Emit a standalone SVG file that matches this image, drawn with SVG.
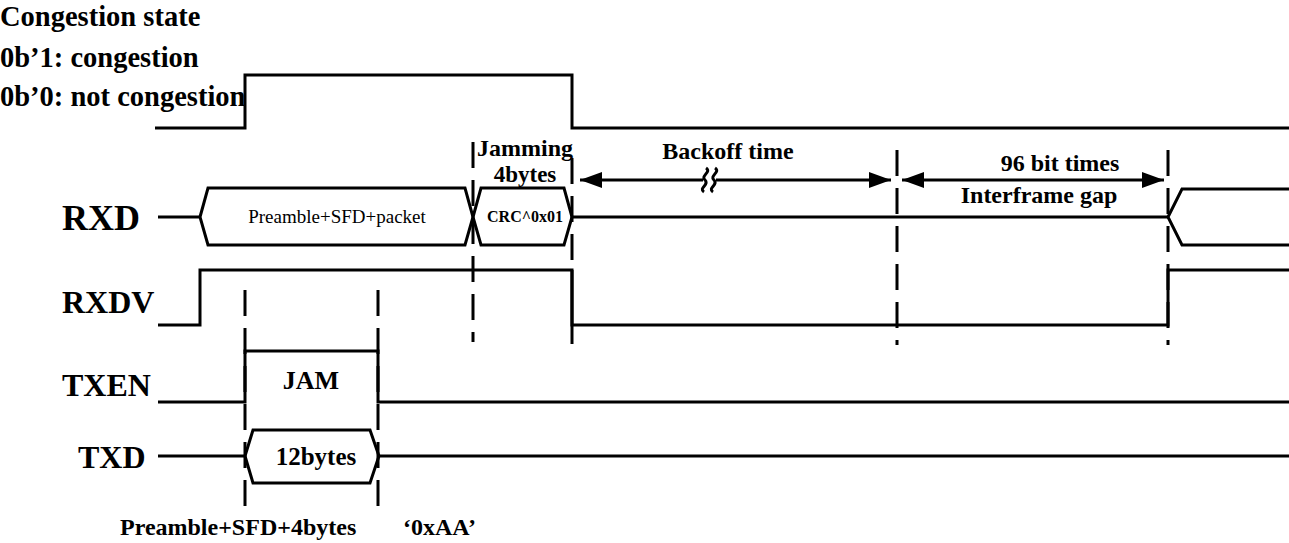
<svg xmlns="http://www.w3.org/2000/svg" width="1289" height="543" viewBox="0 0 1289 543">
<defs>
<style>
.w{fill:none;stroke:#000;stroke-width:3;stroke-linejoin:miter}
.d{fill:none;stroke:#000;stroke-width:3;stroke-dasharray:26 12}
.t{font-family:"Liberation Serif","Times New Roman",serif;font-weight:bold;fill:#000}
.r{font-family:"Liberation Serif","Times New Roman",serif;fill:#000}
.sig{font-size:32px}
.m{text-anchor:middle}
</style>
<marker id="ah" viewBox="0 0 22 16" refX="22" refY="8" markerWidth="22" markerHeight="16" markerUnits="userSpaceOnUse" orient="auto-start-reverse">
<path d="M0,0 L22,8 L0,16 z" fill="#000"/>
</marker>
</defs>
<rect width="1289" height="543" fill="#fff"/>

<g id="legend">
<text class="t" x="0" y="26" font-size="28.5">Congestion state</text>
<text class="t" x="0" y="67" font-size="28.5">0b’1: congestion</text>
<text class="t" x="0" y="106" font-size="28.5">0b’0: not congestion</text>
</g>

<g id="labels">
<text class="t" x="62" y="230" font-size="36">RXD</text>
<text class="t sig" x="62" y="313">RXDV</text>
<text class="t sig" x="62" y="396">TXEN</text>
<text class="t sig" x="78" y="468">TXD</text>
</g>

<g id="congestion">
<polyline class="w" points="155,128 245,128 245,75 572,75 572,128 1289,128"/>
</g>

<g id="rxd">
<line class="w" x1="158" y1="217" x2="200" y2="217"/>
<polygon class="w" points="200,217 208,188 465,188 473,217 465,245 208,245"/>
<text class="r m" x="337" y="223" font-size="19">Preamble+SFD+packet</text>
<polygon class="w" points="473,217 481,188 564,188 572,217 564,245 481,245"/>
<text class="t m" x="525" y="222" font-size="16">CRC^0x01</text>
<line class="w" x1="572" y1="217" x2="1168" y2="217"/>
<polyline class="w" points="1289,189 1182,189 1168,217 1182,245 1289,245"/>
</g>

<g id="rxdv">
<polyline class="w" points="158,325 200,325 200,270 572,270 572,325 1168,325 1168,270 1289,270"/>
</g>

<g id="txen">
<polyline class="w" points="158,402 245,402 245,351 378,351 378,402 1289,402"/>
<text class="t m" x="311" y="389" font-size="26">JAM</text>
</g>

<g id="txd">
<line class="w" x1="158" y1="456" x2="245" y2="456"/>
<polygon class="w" points="245,456 253,430 370,430 379,456 370,483 253,483"/>
<text class="t m" x="316" y="465" font-size="25">12bytes</text>
<line class="w" x1="379" y1="456" x2="1289" y2="456"/>
</g>

<g id="connectors">
<line class="d" x1="245" y1="290" x2="245" y2="512"/>
<line class="d" x1="378" y1="290" x2="378" y2="512"/>
<line class="d" x1="473" y1="142" x2="473" y2="342"/>
<line class="d" x1="572" y1="158" x2="572" y2="262"/>
<line class="w" x1="572" y1="270" x2="572" y2="344"/>
<line class="d" x1="897" y1="150" x2="897" y2="345"/>
<line class="d" x1="1168" y1="150" x2="1168" y2="345"/>
<line class="w" x1="580" y1="180" x2="703" y2="180" marker-start="url(#ah)"/>
<line class="w" x1="716" y1="180" x2="891" y2="180" marker-end="url(#ah)"/>
<path class="w" d="M706,168 C712,172 700,176 705,180 C710,185 698,188 704,192"/>
<path class="w" d="M715,168 C721,172 709,176 714,180 C719,185 707,188 713,192"/>
<line class="w" x1="902" y1="180" x2="1164" y2="180" marker-start="url(#ah)" marker-end="url(#ah)"/>
</g>

<g id="annotations">
<text class="t m" x="525" y="156" font-size="24">Jamming</text>
<text class="t m" x="525" y="182" font-size="23">4bytes</text>
<text class="t m" x="728" y="159" font-size="24">Backoff time</text>
<text class="t m" x="1060" y="171" font-size="24">96 bit times</text>
<text class="t m" x="1039" y="203" font-size="24">Interframe gap</text>
<text class="t" x="120" y="535" font-size="24">Preamble+SFD+4bytes</text>
<text class="t" x="403" y="535" font-size="24">‘0xAA’</text>
</g>
</svg>
